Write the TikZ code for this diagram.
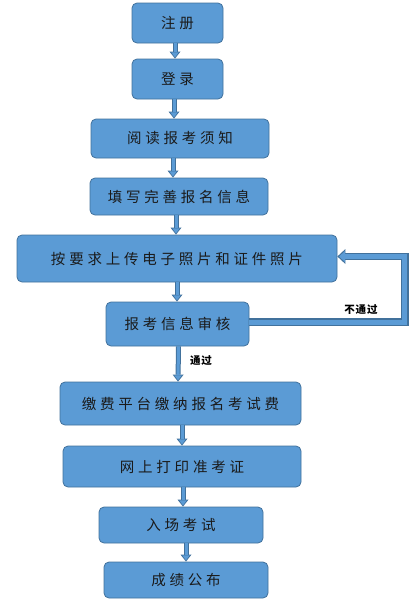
\documentclass[tikz,border=0pt]{standalone}
\usepackage{fontspec}
\usetikzlibrary{arrows.meta}
\newfontfamily\cjk{Noto Sans CJK SC}[LetterSpace=26]
\newfontfamily\cjklab{Noto Sans CJK SC}[LetterSpace=8]
\definecolor{fillc}{HTML}{5B9BD5}
\definecolor{bord}{HTML}{41719C}
\definecolor{txt}{HTML}{1A1A1A}
\tikzset{
  box/.style={draw=bord, fill=fillc, line width=0.8pt, rounded corners=5pt,
    inner sep=0pt, text=txt, font=\cjk\fontsize{14.5}{16}\selectfont},
  bout/.style={draw=bord, line width=5pt, -{Triangle[width=11pt,length=7pt,line width=0pt]}},
  bin/.style={draw=fillc, line width=3pt, shorten >=1.3pt, -{Triangle[width=7.5pt,length=5pt,line width=0pt]}},
  lout/.style={draw=bord, line width=7.5pt, line join=miter, -{Triangle[width=15pt,length=8pt,line width=0pt]}},
  lin/.style={draw=fillc, line width=5pt, line join=miter, shorten >=1.6pt, -{Triangle[width=11pt,length=6pt,line width=0pt]}},
  lab/.style={inner sep=0pt, text=black, font=\cjklab\bfseries\fontsize{10.5}{12}\selectfont}
}
\newcommand\barr[2]{\draw[bout] #1 -- #2; \draw[bin] #1 -- #2;}
\begin{document}
\begin{tikzpicture}[x=1pt,y=-1pt]
\useasboundingbox (0,0) rectangle (415,606);
\node[box, minimum width=91pt, minimum height=40pt] (n1) at (177.5,23) {注册};
\node[box, minimum width=91pt, minimum height=40pt] (n2) at (177.5,79) {登录};
\node[box, minimum width=178pt, minimum height=39pt] (n3) at (180,138.5) {阅读报考须知};
\node[box, minimum width=178pt, minimum height=37pt] (n4) at (179,196.5) {填写完善报名信息};
\node[box, minimum width=320pt, minimum height=47pt] (n5) at (177,258.5) {按要求上传电子照片和证件照片};
\node[box, minimum width=143pt, minimum height=44pt] (n6) at (177.5,324) {报考信息审核};
\node[box, minimum width=241pt, minimum height=43pt] (n7) at (180.5,403.5) {缴费平台缴纳报名考试费};
\node[box, minimum width=238pt, minimum height=41pt] (n8) at (182,466.5) {网上打印准考证};
\node[box, minimum width=164pt, minimum height=36pt] (n9) at (181,525) {入场考试};
\node[box, minimum width=164pt, minimum height=36pt] (n10) at (186,580) {成绩公布};

\barr{([xshift=-2.5pt]n1.south)}{([xshift=-2.5pt]n2.north)}
\barr{([xshift=-3.5pt]n2.south)}{([xshift=-6pt]n3.north)}
\barr{([xshift=-7pt]n3.south)}{([xshift=-6pt]n4.north)}
\barr{([xshift=-3pt]n4.south)}{([xshift=-1pt]n5.north)}
\barr{(n5.south)}{([xshift=-0.5pt]n6.north)}
\barr{([xshift=1pt]n6.south)}{([xshift=-2.5pt]n7.north)}
\barr{([xshift=1.5pt]n7.south)}{([xshift=0pt]n8.north)}
\barr{([xshift=1pt]n8.south)}{([xshift=2pt]n9.north)}
\barr{([xshift=5pt]n9.south)}{([xshift=0pt]n10.north)}

\draw[lout] ([yshift=2pt]n6.east) -- ++(155.5,0) |- ([yshift=2pt]n5.east);
\draw[lin] ([yshift=2pt]n6.east) -- ++(155.5,0) |- ([yshift=2pt]n5.east);

\node[lab] (l1) at (361,309.5) {不通过};
\node[lab] (l2) at (201,361) {通过};
\end{tikzpicture}
\end{document}
